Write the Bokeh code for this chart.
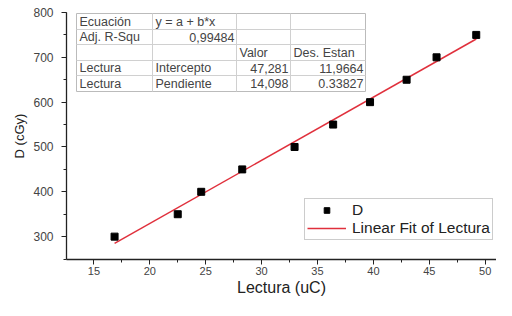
from bokeh.plotting import figure
from bokeh.models import Range1d, FixedTicker, Legend, LegendItem, ColumnDataSource
from bokeh.core.properties import value
from bokeh.embed import file_html
from bokeh.resources import INLINE

# ---- data ----
lectura = [16.85, 22.5, 24.6, 28.27, 32.95, 36.4, 39.7, 42.97, 45.65, 49.2]
dosis = [300, 350, 400, 450, 500, 550, 600, 650, 700, 750]
intercepto = 47.281
pendiente = 14.098
x_ticks = [15, 20, 25, 30, 35, 40, 45, 50]
y_ticks = [300, 400, 500, 600, 700, 800]

table_rows = [
    ["Ecuación", "y = a + b*x", "", ""],
    ["Adj. R-Squ", "0,99484", "", ""],
    ["", "", "Valor", "Des. Estan"],
    ["Lectura", "Intercepto", "47,281", "11,9664"],
    ["Lectura", "Pendiente", "14,098", "0.33827"],
]

FONT = "Liberation Sans"
W, H = 496, 300
BL, BT, BB = 66, 12, 41
FRAME_W, FRAME_H = W - BL, H - BT - BB
FRAME_L, FRAME_T = BL, BT

X_START = 12.55
X_END = X_START + FRAME_W / 11.18
Y_START, Y_END = 249, 800


def dx(px):
    return X_START + (px - FRAME_L) * (X_END - X_START) / FRAME_W


def dy(py):
    return Y_END - (py - FRAME_T) * (Y_END - Y_START) / FRAME_H


p = figure(width=W, height=H, output_backend="svg", toolbar_location=None,
           x_range=Range1d(X_START, X_END), y_range=Range1d(Y_START, Y_END),
           min_border_left=BL, min_border_top=BT, min_border_bottom=BB,
           min_border_right=0)
p.outline_line_color = None
p.grid.visible = False
p.background_fill_color = "white"

for ax in (p.xaxis[0], p.yaxis[0]):
    ax.axis_line_color = "#222222"
    ax.axis_line_width = 1.3
    ax.major_tick_line_color = "#222222"
    ax.minor_tick_line_color = "#222222"
    ax.major_tick_in = 0
    ax.major_tick_out = 5
    ax.minor_tick_in = 0
    ax.minor_tick_out = 3
    ax.major_label_text_font = FONT
    ax.major_label_text_color = "#444444"
    ax.axis_label_text_font = FONT
    ax.axis_label_text_font_style = "normal"
    ax.axis_label_text_color = "#222222"

p.xaxis.ticker = FixedTicker(ticks=x_ticks, minor_ticks=[12.5 + 2.5 * i for i in range(17)])
p.yaxis.ticker = FixedTicker(ticks=y_ticks, minor_ticks=[250 + 50 * i for i in range(12)])
p.xaxis.axis_label = "Lectura (uC)"
p.yaxis.axis_label = "D (cGy)"
p.xaxis.major_label_text_font_size = "11px"
p.yaxis.major_label_text_font_size = "12px"
p.xaxis.axis_label_text_font_size = "16px"
p.yaxis.axis_label_text_font_size = "13px"
p.xaxis.major_label_standoff = 2
p.yaxis.major_label_standoff = 8
p.xaxis.axis_label_standoff = 1
p.yaxis.axis_label_standoff = 3

# ---- table ----
col_edges = [76, 152, 236, 290, 365]
row_edges = [13, 29, 44, 60, 75, 91]
p.quad(left=dx(col_edges[0]), right=dx(col_edges[-1]), top=dy(row_edges[0]),
       bottom=dy(row_edges[-1]), fill_color="white", line_color="#bbbbbb", line_width=1)
hx0, hx1, hy = [], [], []
for r in row_edges[1:-1]:
    hx0.append(dx(col_edges[0])); hx1.append(dx(col_edges[-1])); hy.append(dy(r))
p.segment(x0=hx0, x1=hx1, y0=hy, y1=hy, line_color="#d0d0d0", line_width=1)
vx, vy0, vy1 = [], [], []
for c in col_edges[1:-1]:
    vx.append(dx(c)); vy0.append(dy(row_edges[0])); vy1.append(dy(row_edges[-1]))
p.segment(x0=vx, x1=vx, y0=vy0, y1=vy1, line_color="#d0d0d0", line_width=1)

lx, ly, lt, rx, ry, rt = [], [], [], [], [], []
for i, row in enumerate(table_rows):
    yc = dy((row_edges[i] + row_edges[i + 1]) / 2)
    for j, txt in enumerate(row):
        if not txt:
            continue
        if txt[0].isdigit():
            rx.append(dx(col_edges[j + 1] - 2)); ry.append(yc); rt.append(txt)
        else:
            lx.append(dx(col_edges[j] + 3)); ly.append(yc); lt.append(txt)
p.text(x=lx, y=ly, text=lt, text_font=value(FONT), text_font_size="12.5px",
       text_color="#444444", text_align="left", text_baseline="middle")
p.text(x=rx, y=ry, text=rt, text_font=value(FONT), text_font_size="12.5px",
       text_color="#444444", text_align="right", text_baseline="middle")

# ---- data + fit ----
src = ColumnDataSource(dict(x=lectura, y=dosis))
fit_x = [min(lectura), max(lectura)]
fit_y = [intercepto + pendiente * v for v in fit_x]
fit = p.line(fit_x, fit_y, line_color="#e0303c", line_width=1.5)
pts = p.scatter("x", "y", source=src, marker="square", size=7,
                fill_color="black", line_color="black")

legend = Legend(items=[LegendItem(label="D", renderers=[pts]),
                       LegendItem(label="Linear Fit of Lectura", renderers=[fit])],
                location=(238, 19), orientation="vertical")
legend.glyph_width = 39
legend.glyph_height = 14
legend.label_height = 14
legend.label_standoff = 6
legend.padding = 2
legend.spacing = 0
legend.margin = 0
legend.border_line_color = "#999999"
legend.label_text_font = FONT
legend.label_text_font_size = "15.5px"
legend.label_text_color = "#222222"
legend.background_fill_alpha = 1
p.add_layout(legend, "center")

open("out.html", "w").write(file_html(p, INLINE))
